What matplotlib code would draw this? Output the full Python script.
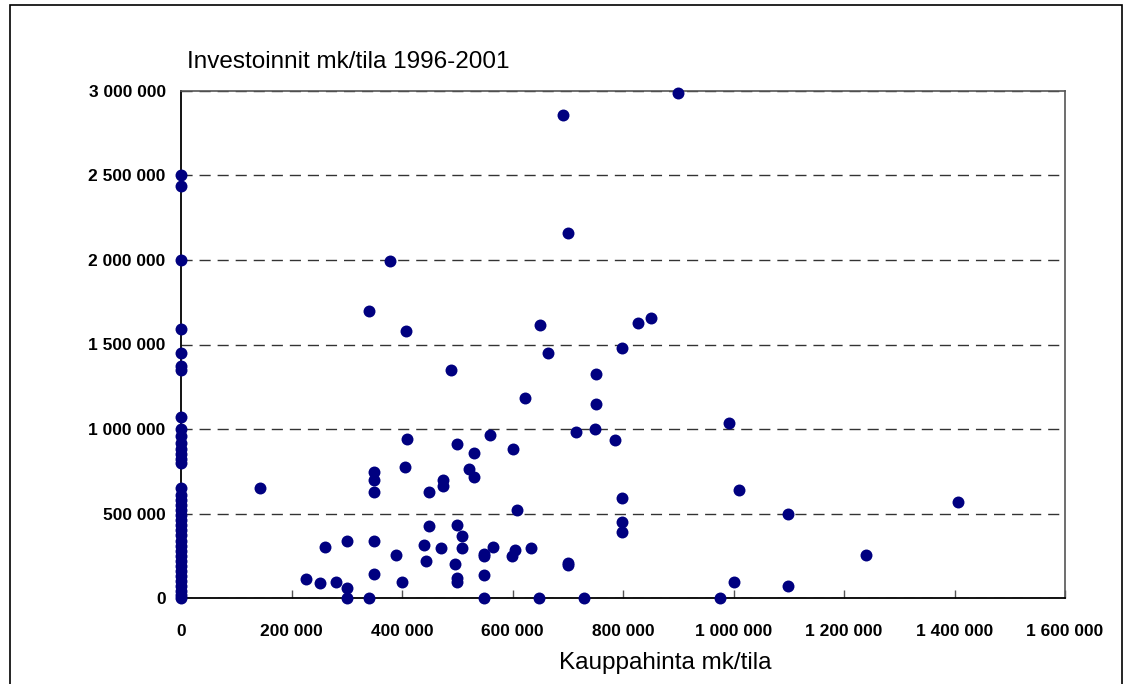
import matplotlib
matplotlib.use("Agg")
import matplotlib.pyplot as plt
from matplotlib.patches import Rectangle
from matplotlib.ticker import FuncFormatter, MultipleLocator

# Farms with zero purchase price (x = 0)
zero_x_invest = [2500000, 2440000, 2000000, 1590000, 1450000, 1370000, 1350000,
                 1070000, 1000000, 960000, 920000, 880000, 850000, 820000, 800000,
                 650000, 610000, 580000, 550000, 520000, 490000, 460000, 430000,
                 400000, 370000, 340000, 310000, 280000, 250000, 220000, 190000,
                 160000, 130000, 100000, 70000, 40000, 20000, 0]

# Farms with a purchase price
price = [143000, 227000, 251000, 280000, 260000, 301000, 301000, 301000, 341000,
         349000, 349000, 349000, 349000, 349000, 341000, 379000, 390000, 400000,
         405000, 408000, 409000, 448000, 448000, 439000, 443000, 475000, 475000,
         471000, 488000, 500000, 500000, 509000, 509000, 496000, 500000, 500000,
         530000, 521000, 530000, 560000, 564000, 549000, 549000, 549000, 549000,
         600000, 604000, 599000, 608000, 623000, 634000, 648000, 650000, 665000,
         691000, 700000, 700000, 700000, 715000, 730000, 749000, 751000, 751000,
         785000, 798000, 799000, 799000, 799000, 827000, 851000, 900000, 976000,
         991000, 1000000, 1010000, 1098000, 1098000, 1240000, 1407000]
invest = [650000, 112000, 90000, 92000, 302000, 340000, 60000, 0, 0,
          748000, 696000, 626000, 340000, 142000, 1700000, 1995000, 254000, 92000,
          776000, 1577000, 938000, 628000, 424000, 316000, 220000, 700000, 662000,
          296000, 1349000, 910000, 430000, 366000, 296000, 204000, 116000, 92000,
          860000, 764000, 718000, 962000, 304000, 262000, 246000, 136000, 0,
          882000, 284000, 250000, 522000, 1181000, 296000, 0, 1618000, 1451000,
          2856000, 2161000, 210000, 196000, 982000, 0, 1000000, 1146000, 1327000,
          932000, 1480000, 592000, 452000, 388000, 1626000, 1659000, 2990000, 0,
          1035000, 92000, 642000, 496000, 72000, 252000, 571000]

title = "Investoinnit mk/tila 1996-2001"
xlabel = "Kauppahinta mk/tila"

plt.rcParams['font.family'] = ['Liberation Sans', 'DejaVu Sans']

fig = plt.figure(figsize=(11.26, 6.84), dpi=100)
ax = fig.add_axes([181/1126, 1-598/684, (1065-181)/1126, (598-91)/684])

xs = [0]*len(zero_x_invest) + price
ys = zero_x_invest + invest
ax.scatter(xs, ys, s=74, color='#000080', zorder=5, clip_on=False, linewidths=0)

ax.set_xlim(0, 1600000)
ax.set_ylim(0, 3000000)
ax.xaxis.set_major_locator(MultipleLocator(200000))
ax.yaxis.set_major_locator(MultipleLocator(500000))
fmt = FuncFormatter(lambda v, p: f"{int(round(v)):,}".replace(",", " "))
ax.xaxis.set_major_formatter(fmt)
ax.yaxis.set_major_formatter(fmt)

for lab in ax.get_xticklabels() + ax.get_yticklabels():
    lab.set_fontweight('bold')
ax.tick_params(axis='x', direction='in', length=6, width=1, labelsize=12.5, pad=19, color='#555555')
ax.tick_params(axis='y', direction='in', length=0, labelsize=12.5, pad=11)

ax.grid(axis='y', color='#333333', linestyle=(0, (8, 5)), linewidth=1)
ax.set_axisbelow(True)

for side in ['left', 'bottom']:
    ax.spines[side].set_color('black')
    ax.spines[side].set_linewidth(1.3)
for side in ['top', 'right']:
    ax.spines[side].set_color('#555555')
    ax.spines[side].set_linewidth(1.2)

fig.text(187/1126, 1-62/684, title, fontsize=17.5, ha='left', va='center')
fig.text(665/1126, 1-663/684, xlabel, fontsize=17.5, ha='center', va='center')

fig.patches.append(Rectangle((10/1126, -0.05), (1122-10)/1126, 1.05-5/684,
                             transform=fig.transFigure, fill=False,
                             edgecolor='black', linewidth=1.2))

fig.savefig("out.png", dpi=100)
